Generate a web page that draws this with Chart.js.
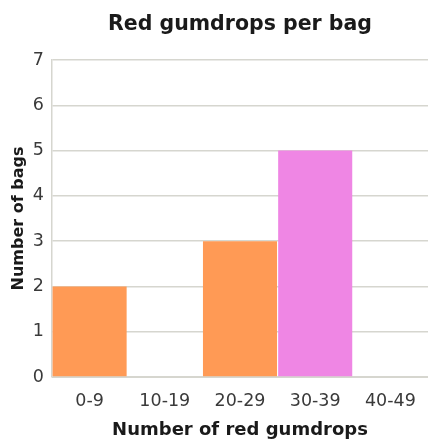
<!DOCTYPE html>
<html>
<head>
<meta charset="utf-8">
<script src="https://cdn.jsdelivr.net/npm/chart.js@4/dist/chart.umd.min.js"></script>
<style>
  html, body { margin: 0; padding: 0; background: #fff; }
  #wrap { width: 428px; height: 439px; }
</style>
</head>
<body>
<div id="wrap"><canvas id="c" width="428" height="439"></canvas></div>
<script>
// Histogram of red gumdrops per bag
const categories = ['0-9', '10-19', '20-29', '30-39', '40-49'];
const bagCounts = [2, 0, 3, 5, 0];
const barColors = ['#ff9a55', '#ff9a55', '#ff9a55', '#ef86e4', '#ff9a55'];
const yTicks = [0, 1, 2, 3, 4, 5, 6, 7];

const FONT = "'DejaVu Sans', Verdana, sans-serif";
const gridColor = '#d6d6cf';

new Chart(document.getElementById('c'), {
  type: 'bar',
  data: {
    labels: categories,
    datasets: [{
      data: bagCounts,
      backgroundColor: barColors,
      borderWidth: 0,
      barPercentage: 0.985,
      categoryPercentage: 1.0
    }]
  },
  options: {
    responsive: false,
    animation: false,
    layout: { padding: { left: 0, right: 0, top: 0, bottom: 0 } },
    plugins: {
      legend: { display: false },
      tooltip: { enabled: false },
      title: {
        display: true,
        text: 'Red gumdrops per bag',
        fullSize: false,
        color: '#1a1a1a',
        font: { family: FONT, size: 20.5, weight: 'bold' },
        padding: { top: 12, bottom: 23.4 }
      }
    },
    scales: {
      x: {
        grid: { display: false },
        border: { display: true, color: gridColor, width: 1 },
        ticks: {
          color: '#3a3a3a',
          font: { family: FONT, size: 17.5 },
          padding: 6,
          maxRotation: 0
        },
        title: {
          display: true,
          text: 'Number of red gumdrops',
          color: '#1a1a1a',
          font: { family: FONT, size: 18, weight: 'bold', lineHeight: 1.0 },
          padding: { top: 4, bottom: 0 }
        },
        afterFit: s => { s.height = 62; }
      },
      y: {
        min: 0,
        max: 7,
        afterBuildTicks: s => { s.ticks = yTicks.map(v => ({ value: v })); },
        grid: { color: gridColor, lineWidth: 1.5, drawTicks: false },
        border: { display: true, color: gridColor, width: 1.5 },
        ticks: {
          color: '#3a3a3a',
          font: { family: FONT, size: 17.5 },
          padding: 8
        },
        title: {
          display: true,
          text: 'Number of bags',
          color: '#1a1a1a',
          font: { family: FONT, size: 16, weight: 'bold' },
          padding: { top: 9, bottom: 0 }
        },
        afterFit: s => { s.width = 52; }
      }
    }
  }
});
</script>
</body>
</html>
